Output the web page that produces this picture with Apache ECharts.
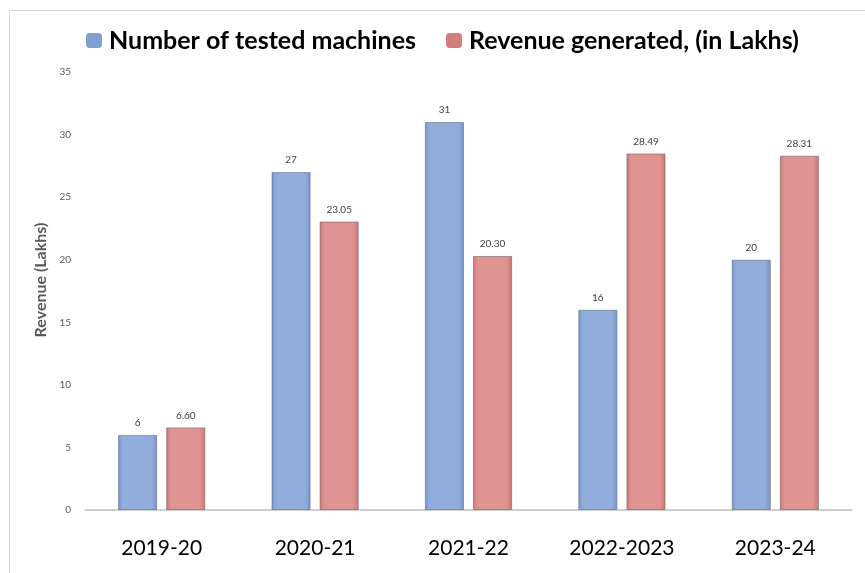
<!DOCTYPE html>
<html>
<head>
<meta charset="utf-8">
<script src="https://cdn.jsdelivr.net/npm/echarts@6/dist/echarts.min.js"></script>
<style>
html,body{margin:0;padding:0;background:#fff;}
#frame{position:absolute;left:9px;top:10px;width:870px;height:570px;border:1px solid #d9d9d9;box-sizing:border-box;}
#chart{position:absolute;left:0;top:0;width:865px;height:573px;}
</style>
</head>
<body>
<div id="frame"></div>
<div id="chart"></div>
<script>
const categories = ['2019-20', '2020-21', '2021-22', '2022-2023', '2023-24'];
const machines = [6, 27, 31, 16, 20];
const revenue = [6.60, 23.05, 20.30, 28.49, 28.31];
const yTicks = [0, 5, 10, 15, 20, 25, 30, 35];
const seriesNames = ['Number of tested machines', 'Revenue generated, (in Lakhs)'];
const yAxisName = 'Revenue (Lakhs)';

function grad(edge, mid) {
  return new echarts.graphic.LinearGradient(0, 0, 1, 0, [
    {offset: 0, color: edge},
    {offset: 0.12, color: mid},
    {offset: 0.85, color: mid},
    {offset: 1, color: edge}
  ]);
}

const chart = echarts.init(document.getElementById('chart'));
chart.setOption({
  backgroundColor: 'transparent',
  animation: false,
  legend: {
    top: 23,
    left: 81,
    itemWidth: 16,
    itemHeight: 15,
    itemGap: 30,
    textStyle: {fontFamily: 'Lato', fontWeight: 'bold', fontSize: 25, color: '#000', padding: [0, 0, 0, 2]},
    data: [
      {name: seriesNames[0], itemStyle: {color: '#7f9fd3', borderWidth: 0}},
      {name: seriesNames[1], itemStyle: {color: '#d47d7d', borderWidth: 0}}
    ]
  },
  grid: {left: 85, right: 13, top: 72, bottom: 63, containLabel: false},
  xAxis: {
    type: 'category',
    data: categories,
    axisLine: {lineStyle: {color: '#bfbfbf', width: 1.5}},
    axisTick: {show: false},
    axisLabel: {fontFamily: 'Lato', fontSize: 21, color: '#000', margin: 28}
  },
  yAxis: {
    type: 'value',
    min: yTicks[0],
    max: yTicks[yTicks.length - 1],
    interval: yTicks[1] - yTicks[0],
    name: yAxisName,
    nameLocation: 'middle',
    nameGap: 36,
    nameTextStyle: {fontFamily: 'Lato', fontWeight: 'bold', fontSize: 16, color: '#595959', padding: [0, 0, 0, 22]},
    axisLine: {show: false},
    axisTick: {show: false},
    splitLine: {show: false},
    axisLabel: {fontFamily: 'Lato', fontSize: 10, color: '#595959', margin: 14}
  },
  series: [
    {
      name: seriesNames[0],
      type: 'bar',
      data: machines,
      barWidth: '25.5%',
      barGap: '23%',
      itemStyle: {color: grad('#7895c9', '#91addc'), borderColor: 'rgba(90,100,120,0.55)', borderWidth: 1},
      label: {show: true, position: 'top', distance: 7, fontFamily: 'Lato', fontSize: 10, color: '#404040'}
    },
    {
      name: seriesNames[1],
      type: 'bar',
      data: revenue,
      barWidth: '25.5%',
      itemStyle: {color: grad('#cf7676', '#df9393'), borderColor: 'rgba(110,90,90,0.55)', borderWidth: 1},
      label: {show: true, position: 'top', distance: 7, fontFamily: 'Lato', fontSize: 10, color: '#404040',
        formatter: p => p.value.toFixed(2)}
    }
  ]
});
</script>
</body>
</html>
